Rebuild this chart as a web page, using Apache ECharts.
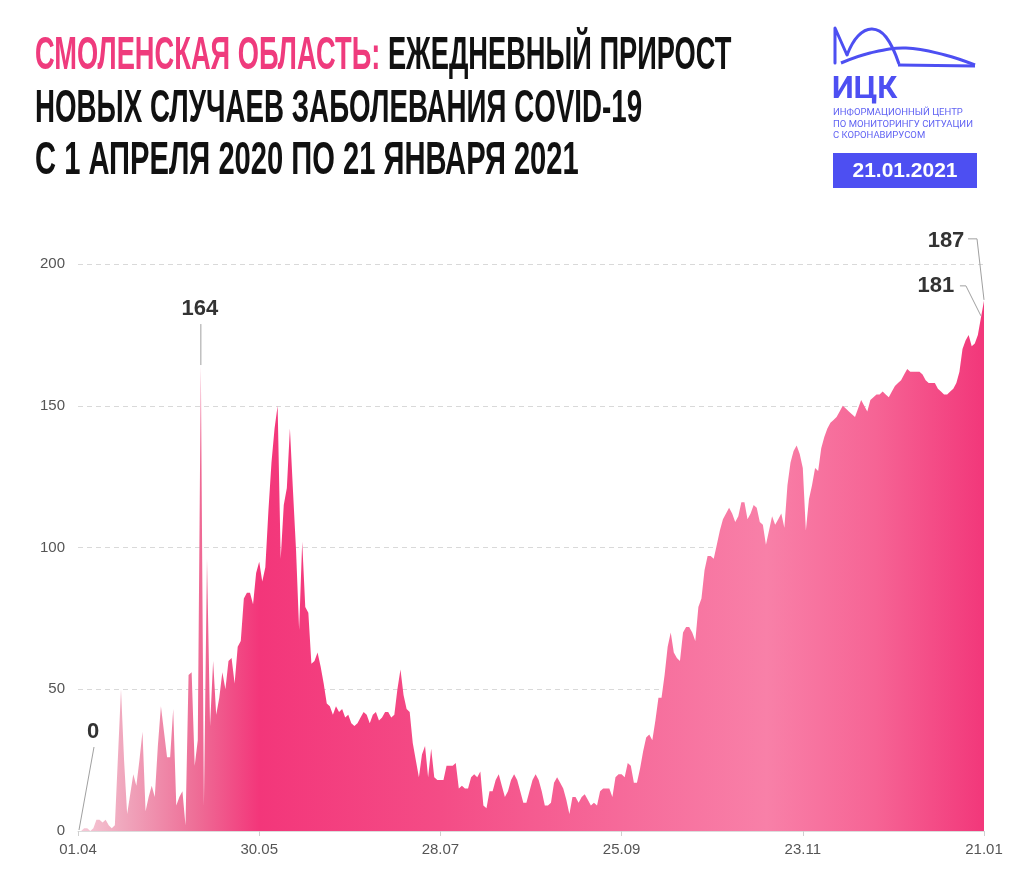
<!DOCTYPE html>
<html>
<head>
<meta charset="utf-8">
<script src="https://cdn.jsdelivr.net/npm/echarts@6/dist/echarts.min.js"></script>
<style>
html,body{margin:0;padding:0;background:#fff;}
#chart{width:1024px;height:877px;}
</style>
</head>
<body>
<div id="chart"></div>
<script>
// Daily new COVID-19 cases, Smolensk region, 01.04.2020 – 21.01.2021
const april     = [0,0,1,1,0,1,4,4,3,4,2,1,2,26,50,25,6,13,20,16,25,35,7,12,16,12,30,44,35,26];
const may       = [26,43,9,12,14,2,55,56,23,32,164,9,96,37,60,41,47,56,50,60,61,52,65,67,82,84,84,80,91,95,88];
const june      = [93,113,130,142,150,96,115,121,142,120,99,71,102,79,77,59,60,63,58,52,45,44,41,44,42,43,40,41,38,37];
const july      = [38,40,42,41,38,41,42,39,40,42,42,40,41,50,57,48,43,42,31,25,19,27,30,19,29,19,18,18,18,23,23];
const august    = [23,24,15,16,15,15,19,20,19,21,9,8,14,14,18,20,16,12,14,18,20,18,14,10,10,14,18,20,18,14,9];
const september = [9,10,17,19,17,15,11,6,12,12,10,12,13,11,9,10,9,14,15,15,15,12,19,20,20,19,24,23,17,17];
const october   = [22,28,33,34,32,39,47,47,55,65,70,63,61,60,70,72,72,70,67,79,82,92,97,97,96,101,106,110,112,114,112];
const november  = [109,111,116,116,110,112,115,114,109,108,101,106,111,108,110,112,107,122,130,134,136,133,128,106,117,122,128,127,135,139];
const december  = [142,144,145,146,148,150,149,148,147,146,149,152,150,148,152,153,154,154,155,154,153,155,157,158,159,161,163,162,162,162,162];
const january   = [161,159,158,158,158,156,155,154,154,155,156,158,162,170,173,175,171,172,175,181,187];

const tickLabels = ['01.04','30.05','28.07','25.09','23.11','21.01'];
const yTicks = [0, 50, 100, 150, 200];

const values = [].concat(april, may, june, july, august, september, october, november, december, january);

// category labels dd.mm from 01.04.2020
const categories = [];
{
  const d = new Date(2020, 3, 1);
  for (let i = 0; i < values.length; i++) {
    const dd = String(d.getDate()).padStart(2, '0');
    const mm = String(d.getMonth() + 1).padStart(2, '0');
    categories.push(dd + '.' + mm);
    d.setDate(d.getDate() + 1);
  }
}

// callout layout: text centre and leader polyline, as pixel offsets from the data point
const callouts = {
  0:   {text: [15, -99],  leader: [[16, -84], [1, -1]]},
  40:  {text: [-1, -57],  leader: [[0, -42], [0, -1]]},
  294: {text: [-45, -32], leader: [[-21, -32], [-15, -32], [0, -2]]},
  295: {text: [-38, -60], leader: [[-16, -62], [-7, -62], [0, -1]]}
};
const calloutIdx = Object.keys(callouts).map(Number);

const chart = echarts.init(document.getElementById('chart'), null, {renderer: 'canvas'});

const blue = '#4d4ff2';
const titleFont = {fontFamily: 'Liberation Sans', fontWeight: 'bold', fontSize: 47};

const option = {
  backgroundColor: '#ffffff',
  animation: false,
  grid: {left: 78, right: 40, top: 264, bottom: 46},
  xAxis: {
    type: 'category',
    data: categories,
    boundaryGap: false,
    axisLine: {lineStyle: {color: '#dcdcdc', width: 1}},
    axisTick: {
      show: true,
      interval: (idx) => tickLabels.includes(categories[idx]),
      length: 5,
      lineStyle: {color: '#cfcfcf'}
    },
    axisLabel: {
      interval: (idx) => tickLabels.includes(categories[idx]),
      color: '#555',
      fontFamily: 'Liberation Sans',
      fontSize: 15,
      margin: 11
    },
    splitLine: {show: false}
  },
  yAxis: {
    type: 'value',
    min: yTicks[0],
    max: yTicks[yTicks.length - 1],
    interval: 50,
    axisLine: {show: false},
    axisTick: {show: false},
    axisLabel: {color: '#555', fontFamily: 'Liberation Sans', fontSize: 15, margin: 13},
    splitLine: {lineStyle: {color: '#d9d9d9', type: [5, 4], width: 1}}
  },
  series: [{
    type: 'line',
    data: values,
    showSymbol: false,
    silent: true,
    lineStyle: {width: 0},
    itemStyle: {color: '#f0377a'},
    areaStyle: {
      opacity: 1,
      color: new echarts.graphic.LinearGradient(0, 0, 1, 0, [
        {offset: 0.00, color: '#f6cbd8'},
        {offset: 0.05, color: '#f0a7bd'},
        {offset: 0.13, color: '#ee6e97'},
        {offset: 0.20, color: '#f3367a'},
        {offset: 0.40, color: '#f44c86'},
        {offset: 0.60, color: '#f66a9a'},
        {offset: 0.76, color: '#f880a8'},
        {offset: 0.88, color: '#f66495'},
        {offset: 1.00, color: '#f2377a'}
      ])
    }
  }, {
    type: 'custom',
    silent: true,
    clip: false,
    z: 10,
    encode: {x: 0, y: 1},
    data: calloutIdx.map(i => [i, values[i]]),
    renderItem: (params, api) => {
      const idx = api.value(0);
      const v = api.value(1);
      const p = api.coord([idx, v]);
      const c = callouts[calloutIdx[params.dataIndex]];
      return {
        type: 'group',
        children: [{
          type: 'polyline',
          shape: {points: c.leader.map(o => [p[0] + o[0], p[1] + o[1]])},
          style: {stroke: '#a0a0a0', lineWidth: 1, fill: null}
        }, {
          type: 'text',
          x: p[0] + c.text[0],
          y: p[1] + c.text[1],
          style: {
            text: String(v), fill: '#333', fontFamily: 'Liberation Sans', fontWeight: 'bold',
            fontSize: 22, align: 'center', verticalAlign: 'middle'
          }
        }]
      };
    }
  }],
  graphic: [
    // Title
    {
      type: 'text', x: 35, y: 33, scaleX: 0.58,
      style: {
        text: '{p|СМОЛЕНСКАЯ ОБЛАСТЬ: }{b|ЕЖЕДНЕВНЫЙ ПРИРОСТ}',
        rich: {
          p: Object.assign({fill: '#ef3b7d'}, titleFont),
          b: Object.assign({fill: '#111'}, titleFont)
        }
      }
    },
    {
      type: 'text', x: 35, y: 86, scaleX: 0.59,
      style: Object.assign({text: 'НОВЫХ СЛУЧАЕВ ЗАБОЛЕВАНИЯ COVID-19', fill: '#111'}, titleFont)
    },
    {
      type: 'text', x: 35, y: 138, scaleX: 0.62,
      style: Object.assign({text: 'С 1 АПРЕЛЯ 2020 ПО 21 ЯНВАРЯ 2021', fill: '#111'}, titleFont)
    },
    // Logo icon
    {type: 'polyline', shape: {points: [[835, 63], [835, 28], [847, 55]]},
      style: {stroke: blue, lineWidth: 3, fill: null, lineJoin: 'round', lineCap: 'round'}},
    {type: 'polyline', shape: {points: [[847, 55], [858, 36], [872, 29], [886, 37], [899, 64]], smooth: 0.4},
      style: {stroke: blue, lineWidth: 3, fill: null}},
    {type: 'polyline', shape: {points: [[841, 63], [870, 53], [906, 48], [945, 55], [975, 65]], smooth: 0.4},
      style: {stroke: blue, lineWidth: 3, fill: null}},
    {type: 'line', shape: {x1: 898, y1: 65, x2: 975, y2: 66},
      style: {stroke: blue, lineWidth: 3}},
    {
      type: 'text', x: 832, y: 75,
      style: {text: 'ИЦК', fill: blue, fontFamily: 'Roboto', fontWeight: 'bold', fontSize: 31}
    },
    {
      type: 'text', x: 833, y: 107,
      style: {
        text: 'ИНФОРМАЦИОННЫЙ ЦЕНТР\nПО МОНИТОРИНГУ СИТУАЦИИ\nС КОРОНАВИРУСОМ',
        fill: '#6163f3', fontFamily: 'Roboto', fontSize: 9.5, lineHeight: 11.5
      }
    },
    {type: 'rect', shape: {x: 833, y: 153, width: 144, height: 35}, style: {fill: blue}},
    {
      type: 'text', x: 905, y: 171,
      style: {text: '21.01.2021', fill: '#fff', fontFamily: 'Liberation Sans', fontWeight: 'bold',
        fontSize: 21, align: 'center', verticalAlign: 'middle'}
    }
  ]
};

chart.setOption(option);
</script>
</body>
</html>
